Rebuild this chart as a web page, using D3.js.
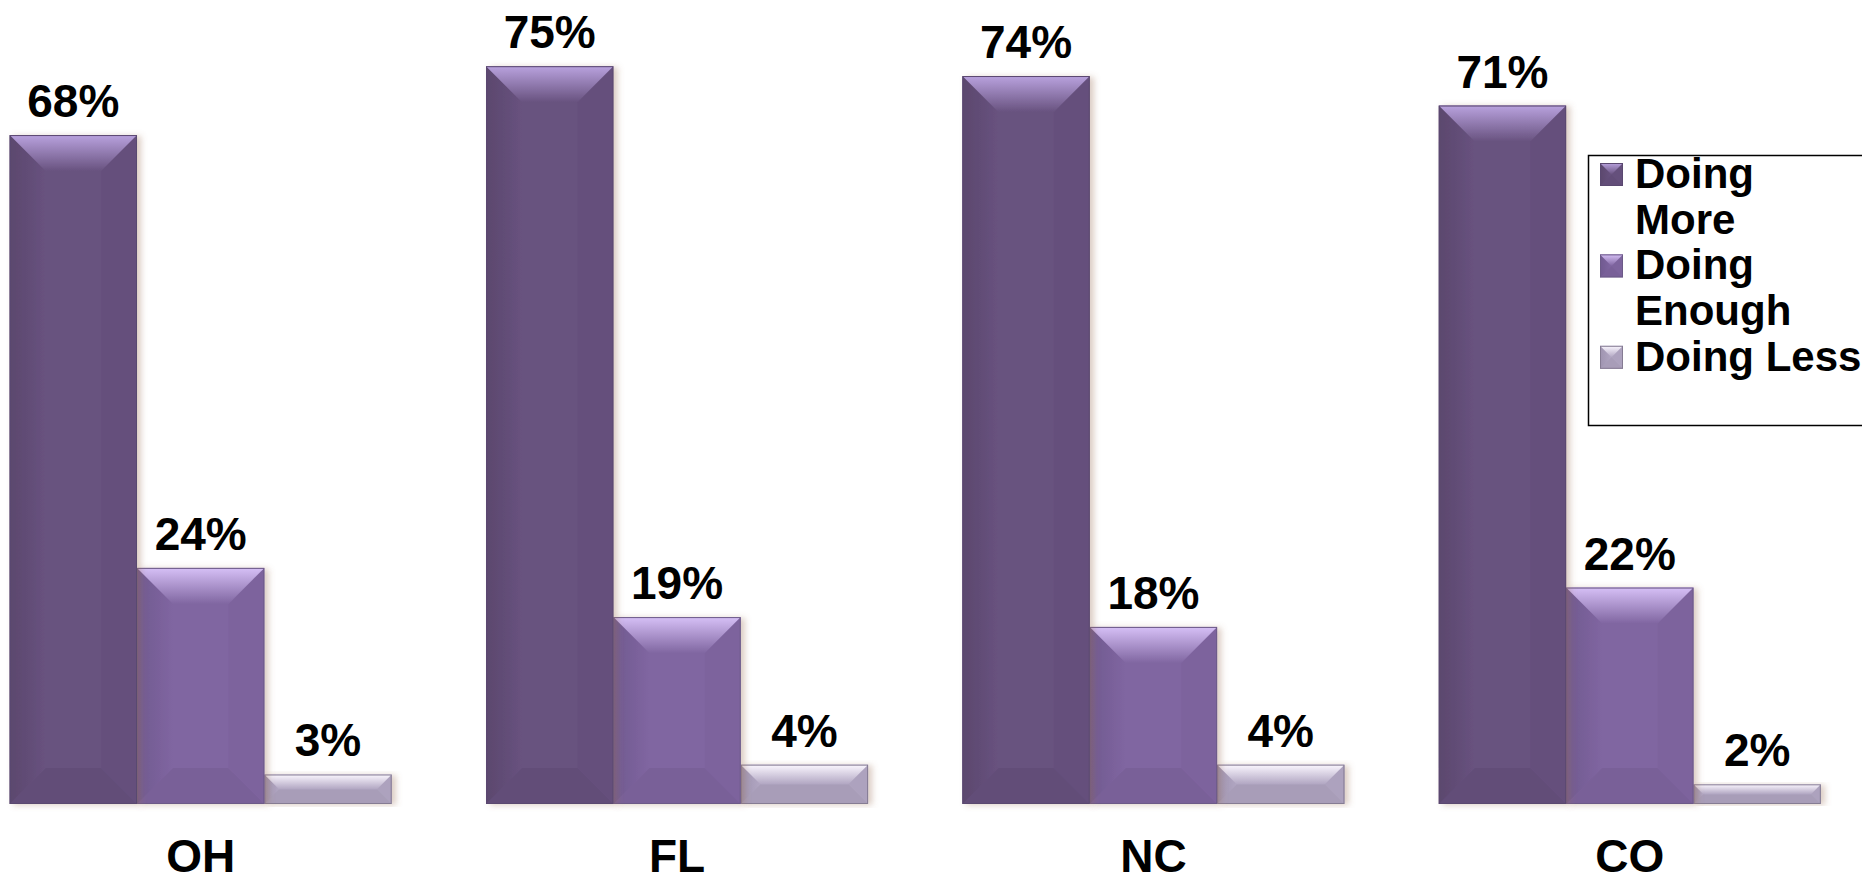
<!DOCTYPE html>
<html>
<head>
<meta charset="utf-8">
<script src="https://cdn.jsdelivr.net/npm/d3@7"></script>
<style>
    body { margin: 0; background: #fff; }
    svg { display: block; }
    text { font-family: "Liberation Sans", Arial, sans-serif; font-weight: bold; fill: #000; }
</style>
</head>
<body>
<svg id="chart" width="1862" height="876"></svg>
<script>
// chart data
const states = ["OH", "FL", "NC", "CO"];
const seriesNames = ["Doing More", "Doing Enough", "Doing Less"];
const doingMore = [68, 75, 74, 71];
const doingEnough = [24, 19, 18, 22];
const doingLess = [3, 4, 4, 2];
const legendLines = [["Doing", "More"], ["Doing", "Enough"], ["Doing Less"]];

// colors per series : body, light top, dark edge, outline
const palette = [
    { body: "#68527f", light: "#b9a2de", edge: "#584569", line: "#5a4870" },
    { body: "#8066a1", light: "#d6c0f6", edge: "#6c568b", line: "#6c5a88" },
    { body: "#b1a6c2", light: "#fbf7ff", edge: "#9a8fab", line: "#857b93" }
];

const svg = d3.select("#chart");
const defs = svg.append("defs");

// gradients for the bevel faces
palette.forEach((c, i) => {
    const top = defs.append("linearGradient").attr("id", `top${i}`)
        .attr("x1", 0).attr("y1", 0).attr("x2", 0).attr("y2", 1);
    top.append("stop").attr("offset", 0).attr("stop-color", c.light);
    top.append("stop").attr("offset", 1).attr("stop-color", c.body);

    const left = defs.append("linearGradient").attr("id", `left${i}`)
        .attr("x1", 0).attr("y1", 0).attr("x2", 1).attr("y2", 0);
    left.append("stop").attr("offset", 0).attr("stop-color", c.edge);
    left.append("stop").attr("offset", 1).attr("stop-color", c.body);
});

const shadow = defs.append("filter").attr("id", "shadow")
    .attr("x", "-10%").attr("y", "-10%").attr("width", "130%").attr("height", "120%");
shadow.append("feDropShadow").attr("dx", 4).attr("dy", 1).attr("stdDeviation", 3)
    .attr("flood-color", "#9a6f55").attr("flood-opacity", 0.35);

// scales
const x0 = d3.scaleBand().domain(states).range([-37.5, 1868]).paddingInner(0.198).paddingOuter(0.099);
const x1 = d3.scaleBand().domain(seriesNames).range([0, x0.bandwidth()]);
const y = d3.scaleLinear().domain([0, 80]).range([804, 17]);

const rows = states.map((s, i) => ({
    state: s,
    values: [doingMore[i], doingEnough[i], doingLess[i]].map((v, k) => ({ series: k, value: v }))
}));

// draws a bevelled box (top light, bottom dark) inside group g
function bevelBox(g, x, yTop, w, h, k, maxBevel) {
    const b = Math.min(maxBevel, h / 2, w / 2);
    const c = palette[k];
    const xr = x + w, yb = yTop + h;
    g.append("rect").attr("x", x).attr("y", yTop).attr("width", w).attr("height", h)
        .attr("fill", c.body);
    g.append("polygon")
        .attr("points", [[x, yTop], [x + b, yTop + b], [x + b, yb - b], [x, yb]].join(" "))
        .attr("fill", `url(#left${k})`).attr("opacity", 0.8);
    g.append("polygon")
        .attr("points", [[xr, yTop], [xr - b, yTop + b], [xr - b, yb - b], [xr, yb]].join(" "))
        .attr("fill", "#000").attr("opacity", 0.02);
    g.append("polygon")
        .attr("points", [[x, yb], [xr, yb], [xr - b, yb - b], [x + b, yb - b]].join(" "))
        .attr("fill", "#000").attr("opacity", 0.05);
    g.append("polygon")
        .attr("points", [[x, yTop], [xr, yTop], [xr - b, yTop + b], [x + b, yTop + b]].join(" "))
        .attr("fill", `url(#top${k})`);
    g.append("rect").attr("x", x + 0.5).attr("y", yTop + 0.5).attr("width", w - 1).attr("height", h - 1)
        .attr("fill", "none").attr("stroke", c.line).attr("stroke-width", 1);
}

const groups = svg.append("g").selectAll("g.state")
    .data(rows).join("g")
    .attr("class", "state")
    .attr("transform", d => `translate(${x0(d.state)},0)`);

// draw from right to left so the shadow falls under the next bar
groups.each(function(d) {
    const g = d3.select(this);
    d.values.slice().reverse().forEach(v => {
        const bx = x1(seriesNames[v.series]);
        const by = y(v.value);
        const bar = g.append("g").attr("filter", "url(#shadow)");
        bevelBox(bar, bx, by, x1.bandwidth(), y(0) - by, v.series, 36);
    });
    g.selectAll("text.value")
        .data(d.values).join("text")
        .attr("class", "value")
        .attr("x", v => x1(seriesNames[v.series]) + x1.bandwidth() / 2)
        .attr("y", v => y(v.value) - 18)
        .attr("text-anchor", "middle")
        .attr("font-size", 46)
        .text(v => `${v.value}%`);
});

// category labels
svg.append("g").selectAll("text")
    .data(states).join("text")
    .attr("x", d => x0(d) + x0.bandwidth() / 2)
    .attr("y", 872)
    .attr("text-anchor", "middle")
    .attr("font-size", 46)
    .text(d => d);

// legend
const legend = svg.append("g");
legend.append("rect")
    .attr("x", 1588.5).attr("y", 155.5).attr("width", 300).attr("height", 270)
    .attr("fill", "#fff").attr("stroke", "#000").attr("stroke-width", 1.5);

let line = 0;
const lineGap = 45.7;
legendLines.forEach((lines, k) => {
    const base = 188 + line * lineGap;
    const mark = legend.append("g");
    bevelBox(mark, 1600, base - 25, 23, 23, k, 11.5);
    lines.forEach((t, j) => {
        legend.append("text")
            .attr("x", 1635)
            .attr("y", base + j * lineGap)
            .attr("font-size", 42)
            .text(t);
    });
    line += lines.length;
});
</script>
</body>
</html>
